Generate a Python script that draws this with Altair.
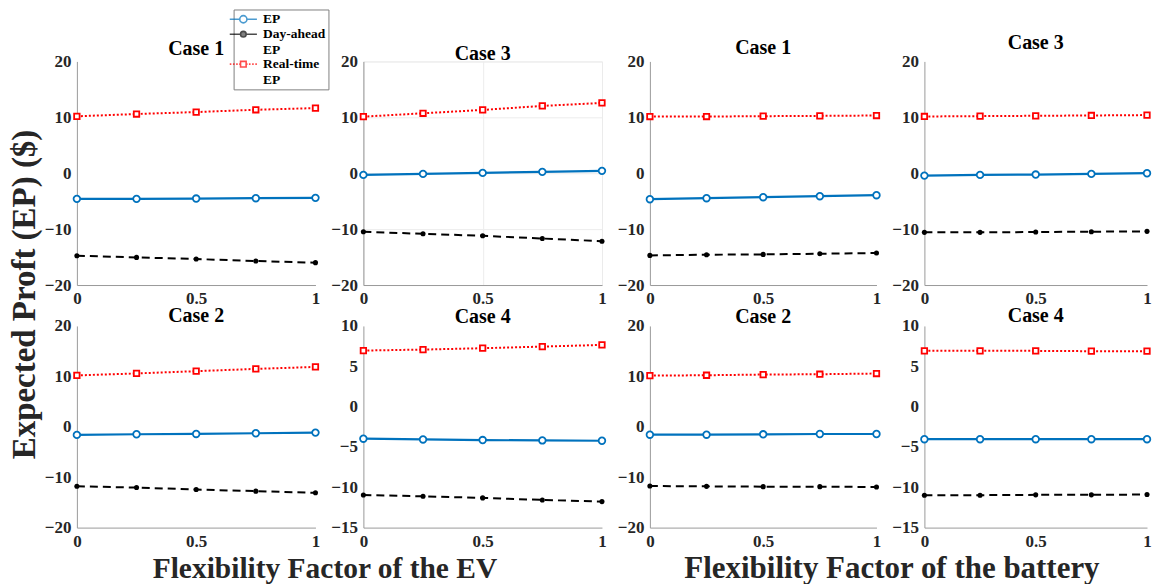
import altair as alt
import pandas as pd

# ---------------- data ----------------
x_vals = [0, 0.25, 0.5, 0.75, 1]
series_names = ["EP", "Day-ahead EP", "Real-time EP"]

ev_case1_ep = [-4.59, -4.59, -4.53, -4.47, -4.41]
ev_case1_da = [-14.76, -15.06, -15.35, -15.71, -16.00]
ev_case1_rt = [10.18, 10.59, 10.94, 11.35, 11.65]

ev_case3_ep = [-0.30, -0.12, 0.06, 0.24, 0.42]
ev_case3_da = [-10.48, -10.84, -11.20, -11.68, -12.16]
ev_case3_rt = [10.12, 10.72, 11.32, 12.04, 12.57]

ev_case2_ep = [-1.61, -1.48, -1.42, -1.29, -1.16]
ev_case2_da = [-11.81, -12.06, -12.45, -12.77, -13.10]
ev_case2_rt = [10.19, 10.58, 11.03, 11.48, 11.87]

ev_case4_ep = [-3.98, -4.07, -4.15, -4.19, -4.23]
ev_case4_da = [-10.96, -11.12, -11.32, -11.57, -11.78]
ev_case4_rt = [6.95, 7.07, 7.24, 7.44, 7.65]

bat_case1_ep = [-4.65, -4.47, -4.29, -4.11, -3.93]
bat_case1_da = [-14.70, -14.58, -14.52, -14.40, -14.28]
bat_case1_rt = [10.14, 10.14, 10.20, 10.26, 10.32]

bat_case3_ep = [-0.43, -0.30, -0.24, -0.12, 0.00]
bat_case3_da = [-10.58, -10.58, -10.52, -10.46, -10.40]
bat_case3_rt = [10.15, 10.21, 10.27, 10.33, 10.40]

bat_case2_ep = [-1.57, -1.57, -1.50, -1.43, -1.43]
bat_case2_da = [-11.75, -11.82, -11.88, -11.88, -11.95]
bat_case2_rt = [10.15, 10.22, 10.36, 10.42, 10.56]

bat_case4_ep = [-4.04, -4.04, -4.04, -4.04, -4.04]
bat_case4_da = [-10.98, -10.98, -10.94, -10.94, -10.90]
bat_case4_rt = [6.91, 6.91, 6.91, 6.87, 6.87]

y_ticks_20 = [-20, -10, 0, 10, 20]
y_ticks_15 = [-15, -10, -5, 0, 5, 10]
x_ticks = [0, 0.5, 1]

y_title = "Expected Proft (EP) ($)"
ev_title = "Flexibility Factor of the EV"
bat_title = "Flexibility Factor of the battery"

# ---------------- styling ----------------
FONT = "Liberation Serif"
BLUE = "#0072BD"
RED = "#FF0000"
AX_COLOR = "#9a9a9a"
LBL_COLOR = "#262626"

# legend symbols: line segment + marker (unit = sqrt(size)/2 px)
P_EP = ("M-3.4,0L-0.9,0M0.9,0L3.4,0"
        "M-0.9,0A0.9,0.9,0,1,1,0.9,0A0.9,0.9,0,1,1,-0.9,0Z")
P_DA = ("M-3.4,0L-0.7,0M0.7,0L3.4,0"
        "M-0.7,0A0.7,0.7,0,1,1,0.7,0A0.7,0.7,0,1,1,-0.7,0Z")
P_RT = ("M-3.4,0L-3.0,0M-2.6,0L-2.2,0M-1.8,0L-1.4,0M-1.05,0L-0.75,0"
        "M0.75,0L1.05,0M1.4,0L1.8,0M2.2,0L2.6,0M3.0,0L3.4,0"
        "M-0.7,-0.7L0.7,-0.7L0.7,0.7L-0.7,0.7Z")

TITLE_SHIFT = 30  # measured extra distance added by the layout


def panel_df(ep, da, rt):
    rows = []
    for name, vals in zip(series_names, [ep, da, rt]):
        for xv, yv in zip(x_vals, vals):
            rows.append({"series": name, "x": xv, "y": yv})
    return pd.DataFrame(rows)


def make_panel(ep, da, rt, title, ydom, yvals, w, h, toff, grid=False, legend=False,
               xtitle=None, xtitle_x=0, xtitle_size=31, ytitle=None):
    df = panel_df(ep, da, rt)
    base = alt.Chart(df)
    gcol = "#ececec"
    xaxis = dict(values=x_ticks, format="~g", grid=grid, gridColor=gcol, ticks=False,
                 labelFlush=False, labelOverlap=False, labelPadding=6)
    if xtitle:
        xaxis.update(title=xtitle, titleFont=FONT, titleFontSize=xtitle_size, titleFontWeight="bold",
                     titleColor=LBL_COLOR, titleX=xtitle_x, titleY=50,
                     titleBaseline="alphabetic", titleAlign="center")
    else:
        xaxis.update(title=None)
    yaxis = dict(values=yvals, format="d", grid=grid, gridColor=gcol, ticks=False,
                 labelPadding=6)
    if ytitle:
        yaxis.update(title=ytitle, titleFont=FONT, titleFontSize=33, titleFontWeight="bold",
                     titleColor=LBL_COLOR, titleX=-42, titleY=233,
                     titleBaseline="alphabetic", titleAlign="center", titleAngle=270)
    else:
        yaxis.update(title=None)
    x = alt.X("x:Q", scale=alt.Scale(domain=[0, 1], nice=False), axis=alt.Axis(**xaxis))
    y = alt.Y("y:Q", scale=alt.Scale(domain=ydom, nice=False), axis=alt.Axis(**yaxis))

    def sel(name):
        return base.transform_filter(alt.datum.series == name)

    layers = [
        sel("EP").mark_line(color=BLUE, strokeWidth=2.2).encode(x=x, y=y),
        sel("EP").mark_point(shape="circle", filled=False, fill="white", color=BLUE,
                             size=44, strokeWidth=1.8, opacity=1).encode(x=x, y=y),
        sel("Day-ahead EP").mark_line(color="black", strokeWidth=2,
                                      strokeDash=[8, 5]).encode(x=x, y=y),
        sel("Day-ahead EP").mark_circle(color="black", size=26, opacity=1).encode(x=x, y=y),
        sel("Real-time EP").mark_line(color=RED, strokeWidth=2,
                                      strokeDash=[2, 2]).encode(x=x, y=y),
        sel("Real-time EP").mark_point(shape="square", filled=False, fill="white", color=RED,
                                       size=30, strokeWidth=1.8, opacity=1).encode(x=x, y=y),
    ]
    if legend:
        leg = alt.Legend(title=None, orient="none", legendX=157, legendY=-52,
                         symbolSize=64, symbolStrokeWidth=1.6,
                         labelFont=FONT, labelFontSize=13.5, labelFontWeight="bold",
                         labelColor="black", labelOffset=13, labelLimit=200,
                         labelExpr="datum.label == 'EP' ? 'EP' : split(datum.label, ' ')",
                         strokeColor="#808080", fillColor="white", padding=3,
                         rowPadding=0)
        layers.append(
            base.transform_filter("datum.x < 0").mark_point(filled=False).encode(
                x=x, y=y,
                stroke=alt.Stroke("series:N", scale=alt.Scale(domain=series_names,
                                                               range=[BLUE, "black", RED]), legend=leg),
                fill=alt.Fill("series:N", scale=alt.Scale(domain=series_names,
                                                           range=["white", "black", "white"]), legend=leg),
                shape=alt.Shape("series:N", scale=alt.Scale(domain=series_names,
                                                             range=[P_EP, P_DA, P_RT]), legend=leg),
            )
        )
    props = dict(width=w, height=h,
                 title=alt.TitleParams(title, font=FONT, fontSize=20, fontWeight="bold",
                                       color="black", offset=toff - TITLE_SHIFT, anchor="middle",
                                       baseline="alphabetic"))
    if grid:
        props["view"] = alt.ViewBackground(stroke="#ececec")
    return alt.layer(*layers).properties(**props)


W1, W2, W3, W4 = 239, 239, 227, 223
HT, HB = 224, 202

p1 = make_panel(ev_case1_ep, ev_case1_da, ev_case1_rt, "Case 1", [-20, 20], y_ticks_20, W1, HT, 7,
                legend=True, ytitle=y_title)
p2 = make_panel(ev_case3_ep, ev_case3_da, ev_case3_rt, "Case 3", [-20, 20], y_ticks_20, W2, HT, 2, grid=True)
p3 = make_panel(bat_case1_ep, bat_case1_da, bat_case1_rt, "Case 1", [-20, 20], y_ticks_20, W3, HT, 8)
p4 = make_panel(bat_case3_ep, bat_case3_da, bat_case3_rt, "Case 3", [-20, 20], y_ticks_20, W4, HT, 13)

p5 = make_panel(ev_case2_ep, ev_case2_da, ev_case2_rt, "Case 2", [-20, 20], y_ticks_20, W1, HB, 5,
                xtitle=ev_title, xtitle_x=248, xtitle_size=29.5)
p6 = make_panel(ev_case4_ep, ev_case4_da, ev_case4_rt, "Case 4", [-15, 10], y_ticks_15, W2, HB, 4)
p7 = make_panel(bat_case2_ep, bat_case2_da, bat_case2_rt, "Case 2", [-20, 20], y_ticks_20, W3, HB, 4,
                xtitle=bat_title, xtitle_x=242, xtitle_size=31)
p8 = make_panel(bat_case4_ep, bat_case4_da, bat_case4_rt, "Case 4", [-15, 10], y_ticks_15, W4, HB, 5)

chart = alt.concat(p1, p2, p3, p4, p5, p6, p7, p8, columns=4,
                   spacing={"row": 41, "column": 48}, bounds="flush").properties(
    padding=0,
).configure_view(stroke=None).configure_axis(
    labelFont=FONT, labelFontSize=17, labelFontWeight="bold", labelColor=LBL_COLOR,
    domainColor=AX_COLOR, domainWidth=1,
).configure_legend(strokeColor="#808080", fillColor="white")

chart.save("out.html", embed_options={"renderer": "svg", "actions": False})
